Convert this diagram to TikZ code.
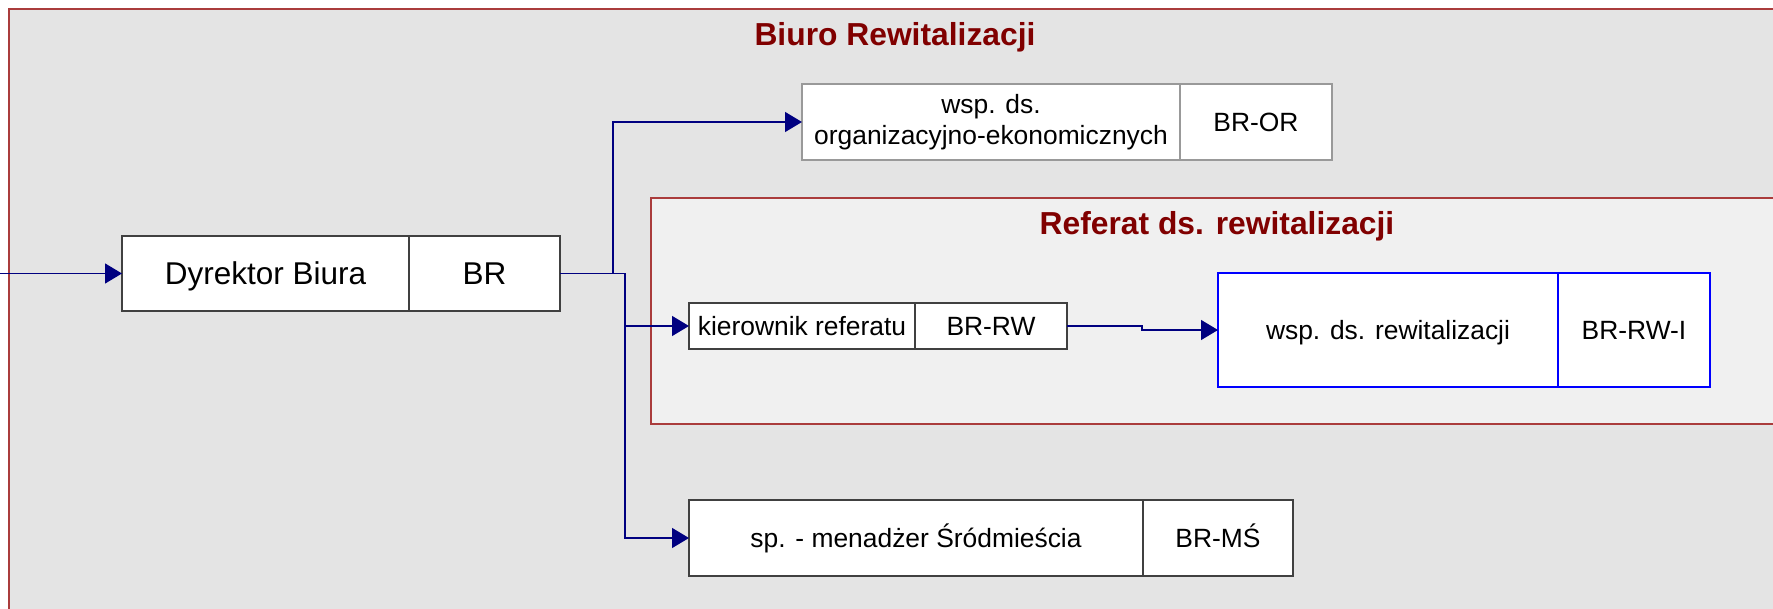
\documentclass[tikz,border=0pt]{standalone}
\usepackage{fontspec}
\setmainfont{Liberation Sans}
\usetikzlibrary{positioning}
\usetikzlibrary{arrows.meta}
\definecolor{framered}{RGB}{170,60,60}
\definecolor{titlered}{RGB}{128,0,0}
\definecolor{linknavy}{RGB}{0,0,128}
\definecolor{outergray}{RGB}{228,228,228}
\definecolor{innergray}{RGB}{240,240,240}
\tikzset{
  unit/.style={rectangle,draw=black!75,fill=white,line width=1.3pt,inner sep=0pt,
    outer sep=0pt,minimum width=#1,align=center,font=\fontsize{26.4}{31}\selectfont},
  oneline/.style={text height=#1,text depth=0pt},
  oneline/.default=19pt,
  frame/.style={draw=framered,line width=1.3pt},
  title/.style={text=titlered,font=\bfseries\fontsize{31.8}{36}\selectfont},
  link/.style={draw=linknavy,line width=1.3pt,-{Triangle[length=17pt,width=20pt]}}
}

\begin{document}
\begin{tikzpicture}[x=1pt,y=-1pt]
  \useasboundingbox (0,0) rectangle (1773,608);
  \clip (0,0) rectangle (1773,608);
  \fill[white] (0,0) rectangle (1773,608);
  \draw[frame,fill=outergray] (9,9) rectangle (1800,640);
  \node (biuro) [title] at (895,37) {Biuro Rewitalizacji};
  \draw[frame,fill=innergray] (651,198) rectangle (1800,424);
  \node (referat) [title] at (1217,226) {Referat ds. rewitalizacji};

  \node (dyr) [unit=287,oneline=22.5pt,minimum height=75,font=\fontsize{31.5}{36}\selectfont] at (265.5,273.5) {Dyrektor Biura};
  \node (dyrcode) [unit=151,oneline=22.5pt,minimum height=75,font=\fontsize{31.5}{36}\selectfont,right=0pt of dyr] {BR};
  \node (org) [unit=378,minimum height=76,draw=black!40] at (991,122) {wsp. ds.\\organizacyjno-ekonomicznych};
  \node (orgcode) [unit=152,oneline,minimum height=76,draw=black!40,right=0pt of org] {BR-OR};
  \node (kier) [unit=226,oneline,minimum height=46] at (802,326) {kierownik referatu};
  \node (kiercode) [unit=152,oneline,minimum height=46,right=0pt of kier] {BR-RW};
  \node (rew) [unit=340,oneline,minimum height=114,draw=blue] at (1388,330) {wsp. ds. rewitalizacji};
  \node (rewcode) [unit=152,oneline,minimum height=114,draw=blue,right=0pt of rew] {BR-RW-I};
  \node (sp) [unit=454,oneline,minimum height=76] at (916,538) {sp. - menadżer Śródmieścia};
  \node (spcode) [unit=150,oneline,minimum height=76,right=0pt of sp] {BR-MŚ};

  \coordinate (in) at (0,273.5);
  \coordinate (up) at (613,0);
  \coordinate (down) at (625,0);
  \coordinate (jog) at (1142,0);
  \draw[link] (in) -- (dyr.west);
  \draw[link] (dyrcode.east) -- (dyrcode.east -| up) |- (org.west);
  \draw[link] (dyrcode.east) -- (dyrcode.east -| down) |- (kier.west);
  \draw[link] (dyrcode.east) -- (dyrcode.east -| down) |- (sp.west);
  \draw[link] (kiercode.east) -- (kiercode.east -| jog) |- (rew.west);
\end{tikzpicture}
\end{document}
